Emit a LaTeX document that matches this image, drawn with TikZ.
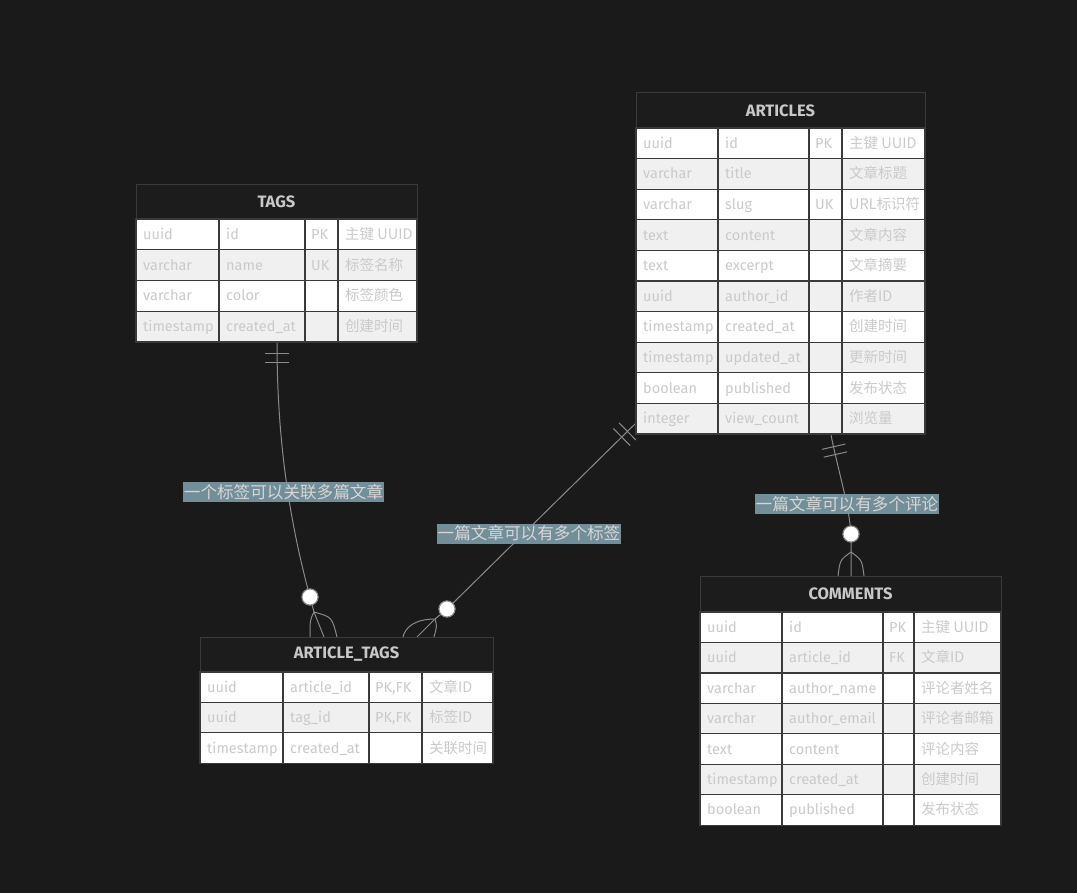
\documentclass[tikz,border=0pt]{standalone}
\usepackage{fontspec}
\setmainfont{Fira Sans}
\newfontfamily\cjk{Noto Sans CJK SC}
\usetikzlibrary{calc}
\definecolor{bg}{HTML}{1A1A1A}
\definecolor{titlebg}{HTML}{1C1C1C}
\definecolor{cellline}{HTML}{3A3A3A}
\definecolor{rowgray}{HTML}{F0F0F0}
\definecolor{celltxt}{HTML}{CACACA}
\definecolor{titletxt}{HTML}{C8C8C8}
\definecolor{lineclr}{HTML}{8A8A8A}
\definecolor{lblbg}{HTML}{7A98A3}
\definecolor{lbltxt}{HTML}{D6D6D6}

\tikzset{
  titlebox/.style={draw=cellline, fill=titlebg, line width=1pt},
  cellbox/.style={draw=cellline, line width=1.3pt},
  celltext/.style={anchor=base west, inner sep=0pt, text=celltxt, font=\fontsize{14.5}{16}\selectfont},
  titletext/.style={inner sep=0pt, text=titletxt, font=\bfseries\fontsize{16.5}{18}\selectfont},
  tablebox/.style={inner sep=0pt, outer sep=0pt, anchor=north west},
  conn/.style={draw=lineclr, line width=1pt},
  zerocirc/.style={circle, draw=lineclr, fill=white, line width=1pt, minimum size=16pt, inner sep=0pt},
  lbl/.style={fill=lblbg, fill opacity=0.92, text opacity=1, text=lbltxt, inner xsep=1pt, inner ysep=0pt, minimum height=20pt, font=\cjk\fontsize{16.6}{18}\selectfont}
}

% #1 name, #2 title, #3 c0/c1/c2/c3/c4, #4 ytop/yhead/rowh, #5 rows
\newcommand\ertable[5]{%
  \foreach \xa/\xb/\xc/\xd/\xe in {#3}{%
    \foreach \ya/\yb/\rh in {#4}{%
      \draw[titlebox] (\xa,\ya) rectangle (\xe,\yb);
      \node[titletext] (#1-title) at ({(\xa+\xe)/2},{(\ya+\yb)/2}) {#2};
      \foreach [count=\i] \p/\q/\kk/\s in {#5}{%
        \pgfmathsetmacro\yt{\yb+(\i-1)*\rh}%
        \pgfmathsetmacro\ybt{\yt+\rh}%
        \pgfmathsetmacro\ym{\yt+\rh/2}%
        \ifodd\i\def\rowfill{white}\else\def\rowfill{rowgray}\fi
        \draw[cellbox, fill=\rowfill] (\xa,\yt) rectangle (\xb,\ybt);
        \draw[cellbox, fill=\rowfill] (\xb,\yt) rectangle (\xc,\ybt);
        \draw[cellbox, fill=\rowfill] (\xc,\yt) rectangle (\xd,\ybt);
        \draw[cellbox, fill=\rowfill] (\xd,\yt) rectangle (\xe,\ybt);
        \node[celltext] at (\xa+7,\ym+5) {\p};
        \node[celltext] at (\xb+7,\ym+5) {\q};
        \node[celltext] at (\xc+6,\ym+5) {\kk};
        \node[celltext] at (\xd+7,\ym+5) {\cjk\s};
      }
    }
  }
}

\begin{document}
\begin{tikzpicture}[x=1pt,y=-1pt]
\fill[bg] (0,0) rectangle (1077,893);
\useasboundingbox (0,0) rectangle (1077,893);

% named table frames
\node[tablebox, minimum width=281pt, minimum height=157pt] (tags) at (136,185) {};
\node[tablebox, minimum width=289pt, minimum height=341pt] (articles) at (636,93) {};
\node[tablebox, minimum width=293pt, minimum height=126pt] (articletags) at (200,637) {};
\node[tablebox, minimum width=301pt, minimum height=249pt] (comments) at (700,576) {};

% ---------- connectors ----------
% TAGS -> ARTICLE_TAGS
\coordinate (t1s) at (277,342);
\node[zerocirc] (z1) at (310,597) {};
\coordinate (f1) at (314,612);
\coordinate (e1l) at (310,637);
\coordinate (e1m) at (324,637);
\coordinate (e1r) at (337,637);
\draw[conn] (t1s) .. controls (277,450) and (292,530) .. (z1.center) -- (f1) -- (e1m);
\draw[conn] (f1) .. controls (310,620) .. (e1l);
\draw[conn] (f1) .. controls (332,617) .. (e1r);
\draw[conn] (265,354) -- (289,354);
\draw[conn] (265,363) -- (289,363);

% ARTICLES -> ARTICLE_TAGS
\coordinate (t2s) at (636,423);
\node[zerocirc] (z2) at (447,609) {};
\coordinate (f2) at (435,619);
\coordinate (e2l) at (403,637);
\coordinate (e2m) at (417,637);
\coordinate (e2r) at (434,637);
\draw[conn] (t2s) -- (z2.center) -- (f2) -- (e2m);
\draw[conn] (f2) .. controls (414,619) and (405,628) .. (e2l);
\draw[conn] (f2) .. controls (437,626) .. (e2r);
\coordinate (b21) at ($(t2s)!12pt!(z2.center)$);
\coordinate (b22) at ($(t2s)!20pt!(z2.center)$);
\draw[conn] ($(b21)!12pt!90:(z2.center)$) -- ($(b21)!12pt!-90:(z2.center)$);
\draw[conn] ($(b22)!12pt!90:(z2.center)$) -- ($(b22)!12pt!-90:(z2.center)$);

% ARTICLES -> COMMENTS
\coordinate (t3s) at (831,435);
\node[zerocirc] (z3) at (851,534) {};
\coordinate (f3) at (851,552);
\coordinate (e3l) at (838,576);
\coordinate (e3m) at (851,576);
\coordinate (e3r) at (864,576);
\coordinate (d3) at (845,497);
\draw[conn] (t3s) .. controls (838,470) and (849,505) .. (z3.center) -- (f3) -- (e3m);
\draw[conn] (f3) .. controls (840,560) .. (e3l);
\draw[conn] (f3) .. controls (862,560) .. (e3r);
\coordinate (b31) at ($(t3s)!12pt!(d3)$);
\coordinate (b32) at ($(t3s)!20pt!(d3)$);
\draw[conn] ($(b31)!12pt!90:(d3)$) -- ($(b31)!12pt!-90:(d3)$);
\draw[conn] ($(b32)!12pt!90:(d3)$) -- ($(b32)!12pt!-90:(d3)$);

% circles on top
\node[zerocirc] at (z1) {};
\node[zerocirc] at (z2) {};
\node[zerocirc] at (z3) {};

% labels
\node[lbl] (l1) at (283.5,492) {一个标签可以关联多篇文章};
\node[lbl] (l2) at (529,533.5) {一篇文章可以有多个标签};
\node[lbl] (l3) at (847,504) {一篇文章可以有多个评论};

% ---------- tables ----------
\ertable{tg}{TAGS}{136/219/305/338/417}{185/219/30.75}{%
  uuid/id/PK/主键 UUID,
  varchar/name/UK/标签名称,
  varchar/color//标签颜色,
  timestamp/created\_at//创建时间}

\ertable{ar}{ARTICLES}{636/718/809/842/925}{93/128/30.6}{%
  uuid/id/PK/主键 UUID,
  varchar/title//文章标题,
  varchar/slug/UK/URL标识符,
  text/content//文章内容,
  text/excerpt//文章摘要,
  uuid/author\_id//作者ID,
  timestamp/created\_at//创建时间,
  timestamp/updated\_at//更新时间,
  boolean/published//发布状态,
  integer/view\_count//浏览量}

\ertable{at}{ARTICLE\_TAGS}{200/283/369/422/493}{637/672/30.4}{%
  uuid/article\_id/{PK,FK}/文章ID,
  uuid/tag\_id/{PK,FK}/标签ID,
  timestamp/created\_at//关联时间}

\ertable{cm}{COMMENTS}{700/782/883/914/1001}{576/612/30.45}{%
  uuid/id/PK/主键 UUID,
  uuid/article\_id/FK/文章ID,
  varchar/author\_name//评论者姓名,
  varchar/author\_email//评论者邮箱,
  text/content//评论内容,
  timestamp/created\_at//创建时间,
  boolean/published//发布状态}

\end{tikzpicture}
\end{document}
